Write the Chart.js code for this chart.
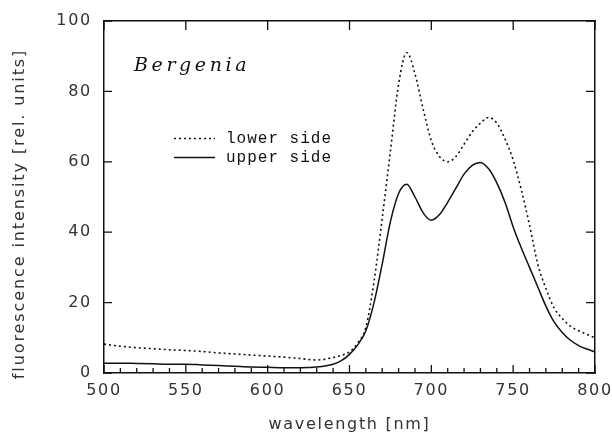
<!DOCTYPE html>
<html>
<head>
<meta charset="utf-8">
<script src="https://cdn.jsdelivr.net/npm/chart.js@4/dist/chart.umd.min.js"></script>
<style>
html,body{margin:0;padding:0;background:#fff}
#wrap{width:612px;height:436px;position:relative}
</style>
</head>
<body>
<div id="wrap"><canvas id="chart-bergenia"></canvas></div>
<script>
// wavelength grid (nm)
const wavelengths=[500,510,520,530,540,550,560,570,580,590,600,610,620,630,640,645,650,655,660,665,670,675,680,685,690,695,700,705,710,715,720,725,730,735,740,745,750,755,760,765,770,775,780,785,790,795,800];
const lowerSide=[8.2,7.6,7.2,6.9,6.6,6.4,6.1,5.7,5.4,5.1,4.8,4.5,4.1,3.7,4.4,5.0,6.0,8.5,13,26,44,63,82,91,85,75,66,61.5,60,61.5,65,68.5,71,72.6,71,66.5,60.5,52,42,31,24,18.5,15.5,13.3,12,11,10];
const upperSide=[2.8,2.8,2.7,2.6,2.5,2.5,2.3,2.1,1.9,1.7,1.6,1.5,1.5,1.7,2.5,3.5,5.3,8,12,20,31,43,51,53.6,50,45.5,43.4,45,48.5,52.5,56.5,59,59.8,58,54,48.5,41.5,35.5,30,24.5,19,14.5,11.5,9.3,7.8,6.8,6];
const xTicks=[500,550,600,650,700,750,800];
const yTicks=[0,20,40,60,80,100];
const legendItems=[['lower side',[2,3]],['upper side',[]]];
const yTitle='fluorescence intensity [rel. units]';

const INK='#111';

// inward tick marks on all four sides
const frameTicks={
  id:'frameTicks',
  beforeDraw(chart){chart.ctx.letterSpacing='1.7px'},
  afterDatasetsDraw(chart){
    const ctx=chart.ctx,a=chart.chartArea;
    const x=chart.scales.x,y=chart.scales.y;
    ctx.save();
    ctx.letterSpacing='0px';
    ctx.setLineDash([]);
    ctx.strokeStyle=INK;
    ctx.lineWidth=1.3;
    ctx.beginPath();
    xTicks.forEach(v=>{
      const p=x.getPixelForValue(v);
      ctx.moveTo(p,a.bottom);ctx.lineTo(p,a.bottom-8);
      ctx.moveTo(p,a.top);ctx.lineTo(p,a.top+9);
    });
    for(let v=510;v<800;v+=10){
      if(v%50===0)continue;
      const p=x.getPixelForValue(v);
      ctx.moveTo(p,a.bottom);ctx.lineTo(p,a.bottom-5);
    }
    yTicks.forEach(v=>{
      const p=y.getPixelForValue(v);
      ctx.moveTo(a.left,p);ctx.lineTo(a.left+8,p);
      ctx.moveTo(a.right,p);ctx.lineTo(a.right-9,p);
    });
    ctx.stroke();
    ctx.restore();
  },
  afterDraw(chart){
    const ctx=chart.ctx;
    ctx.save();
    // y axis title
    ctx.fillStyle='#333';
    ctx.save();
    ctx.translate(24,214);ctx.rotate(-Math.PI/2);
    ctx.font='16px "DejaVu Sans"';ctx.letterSpacing='1.9px';
    ctx.textAlign='center';ctx.textBaseline='alphabetic';
    ctx.fillText(yTitle,0,0);
    ctx.restore();
    // species label
    ctx.fillStyle=INK;
    ctx.textBaseline='alphabetic';ctx.textAlign='left';
    ctx.font='italic 19px "DejaVu Serif"';
    ctx.letterSpacing='3.6px';
    ctx.fillText('Bergenia',134,71);
    // legend
    ctx.font='16px "Liberation Mono"';
    ctx.letterSpacing='1px';
    ctx.strokeStyle=INK;
    legendItems.forEach(([label,dash],i)=>{
      const ly=138.5+i*19;
      ctx.setLineDash(dash);ctx.lineWidth=1.3;
      ctx.beginPath();ctx.moveTo(174,ly);ctx.lineTo(215,ly);ctx.stroke();
      ctx.setLineDash([]);
      ctx.fillText(label,226,142.5+i*19.5);
    });
    ctx.restore();
    ctx.letterSpacing='0px';
  }
};

const tickFont={family:'"DejaVu Sans"',size:16};
const frameBorder={display:true,color:INK,width:1.5};
new Chart(document.getElementById('chart-bergenia'),{
  type:'line',
  data:{datasets:[
    {label:'lower side',data:wavelengths.map((w,i)=>({x:w,y:lowerSide[i]})),borderColor:INK,borderWidth:1.6,borderDash:[2,3],pointRadius:0,cubicInterpolationMode:'monotone'},
    {label:'upper side',data:wavelengths.map((w,i)=>({x:w,y:upperSide[i]})),borderColor:INK,borderWidth:1.5,pointRadius:0,cubicInterpolationMode:'monotone'}
  ]},
  options:{
    responsive:true,maintainAspectRatio:false,animation:false,
    layout:{padding:{left:0,right:17,top:21,bottom:0}},
    plugins:{legend:{display:false},tooltip:{enabled:false}},
    scales:{
      x:{type:'linear',min:500,max:800,
        afterBuildTicks:s=>{s.ticks=xTicks.map(v=>({value:v}))},
        afterFit:s=>{s.height=63;s.paddingLeft=0;s.paddingRight=0},
        grid:{display:false,drawTicks:false},border:frameBorder,
        ticks:{color:'#333',font:tickFont,padding:8,maxRotation:0},
        title:{display:true,text:'wavelength [nm]',color:'#333',font:{family:'"DejaVu Sans"',size:16},padding:{top:0,bottom:2}}
      },
      x2:{type:'linear',position:'top',min:500,max:800,
        afterFit:s=>{s.height=0;s.paddingLeft=0;s.paddingRight=0},
        grid:{display:false,drawTicks:false},border:frameBorder,ticks:{display:false}
      },
      y:{type:'linear',min:0,max:100,
        afterBuildTicks:s=>{s.ticks=yTicks.map(v=>({value:v}))},
        afterFit:s=>{s.width=104;s.paddingTop=0;s.paddingBottom=0},
        grid:{display:false,drawTicks:false},border:frameBorder,
        ticks:{color:'#333',font:tickFont,padding:12}
      },
      y2:{type:'linear',position:'right',min:0,max:100,
        afterFit:s=>{s.width=0;s.paddingTop=0;s.paddingBottom=0},
        grid:{display:false,drawTicks:false},border:frameBorder,ticks:{display:false}
      }
    }
  },
  plugins:[frameTicks]
});
</script>
</body>
</html>
